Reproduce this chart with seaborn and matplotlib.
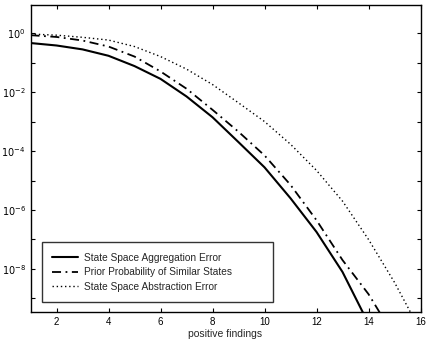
import matplotlib
matplotlib.use("Agg")
import matplotlib.pyplot as plt
import matplotlib.ticker as mticker
import numpy as np
import pandas as pd
import seaborn as sns


findings = [1, 2, 3, 4, 5, 6, 7, 8, 9, 10, 11, 12, 13, 14, 15, 16]

aggregation_err = [4.6e-1, 3.8e-1, 2.8e-1, 1.7e-1, 7.6e-2, 2.8e-2, 7.1e-3, 1.4e-3,
                   2.0e-4, 2.8e-5, 2.5e-6, 1.8e-7, 7.9e-9, 1.4e-10]
prior_prob = [8.5e-1, 7.4e-1, 5.6e-1, 3.5e-1, 1.6e-1, 5.0e-2, 1.3e-2, 2.5e-3,
              4.5e-4, 7.1e-5, 7.1e-6, 4.5e-7, 2.0e-8, 1.4e-9, 5.0e-11]
abstraction_err = [9.3e-1, 8.5e-1, 7.2e-1, 5.8e-1, 3.5e-1, 1.6e-1, 6.0e-2, 1.8e-2,
                   4.3e-3, 1.0e-3, 1.7e-4, 2.2e-5, 2.0e-6, 1.0e-7, 3.5e-9, 7.9e-11]

SERIES = [
    ("State Space Aggregation Error", aggregation_err, "-", 1.5),
    ("Prior Probability of Similar States", prior_prob, (0, (5, 2.5, 1, 2.5)), 1.3),
    ("State Space Abstraction Error", abstraction_err, (0, (1, 2)), 1.0),
]

sns.set_style("ticks")
plt.rcParams['font.family'] = ['Liberation Sans', 'DejaVu Sans']

fig = plt.figure(figsize=(4.28, 3.39), dpi=100)
ax = fig.add_axes([0.0713, 0.0805, 0.9112, 0.9045])

for name, vals, ls, lw in SERIES:
    df = pd.DataFrame({'x': findings[:len(vals)], 'y': vals})
    sns.lineplot(df, x='x', y='y', ax=ax, color='black', linestyle=ls,
                 linewidth=lw, label=name)

ax.set_yscale('log')
ax.set_xlim(1, 16)
ax.set_ylim(10 ** -9.45, 10 ** 0.95)

ax.set_xticks([2, 4, 6, 8, 10, 12, 14, 16])
ax.yaxis.set_major_locator(mticker.FixedLocator([10.0 ** k for k in range(-9, 1)]))
ax.yaxis.set_minor_locator(mticker.NullLocator())


def fmt(v, pos):
    k = int(round(np.log10(v)))
    if k % 2 == 0:
        return r'$10^{%d}$' % k
    return ''


ax.yaxis.set_major_formatter(mticker.FuncFormatter(fmt))
ax.tick_params(direction='in', top=True, right=True, labelsize=7, length=3,
               width=0.8, colors='black')
for s in ax.spines.values():
    s.set_linewidth(1.0)
    s.set_color('black')

ax.set_xlabel('positive findings', fontsize=7.5, labelpad=2)
ax.set_ylabel('')

# matlab-style legend: wide box, text left aligned
leg = ax.legend(loc='lower left', bbox_to_anchor=(0.029, 0.032, 0.593, 0.2),
                mode='expand', borderaxespad=0,
                fontsize=7.3, frameon=True, fancybox=False, edgecolor='black',
                handlelength=2.6, handletextpad=0.6, labelspacing=0.45,
                borderpad=1.0)
leg.get_frame().set_linewidth(1.0)

fig.savefig('out.png', dpi=100)
